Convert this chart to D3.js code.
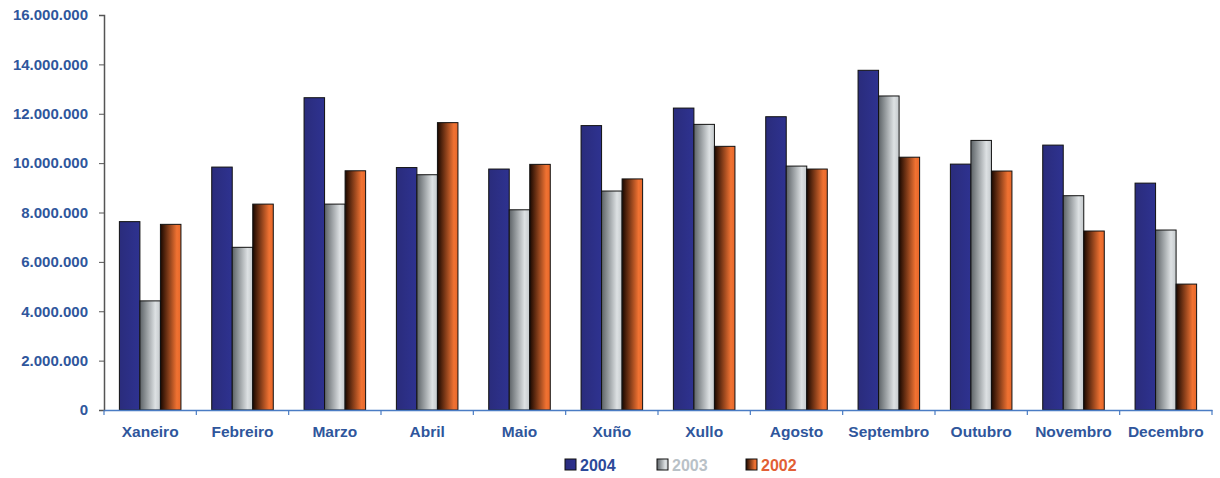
<!DOCTYPE html>
<html><head><meta charset="utf-8">
<script src="https://cdn.jsdelivr.net/npm/d3@7"></script>
<style>body{margin:0;background:#fff}svg{display:block}</style>
</head><body><svg id="c" width="1220" height="478"></svg>
<script>
const months = ["Xaneiro","Febreiro","Marzo","Abril","Maio","Xuño","Xullo","Agosto","Septembro","Outubro","Novembro","Decembro"];
const series = ["2004","2003","2002"];
const v2004 = [7630000,9840000,12650000,9820000,9760000,11520000,12230000,11880000,13760000,9960000,10730000,9190000];
const v2003 = [4420000,6590000,8340000,9530000,8110000,8870000,11570000,9880000,12720000,10920000,8680000,7290000];
const v2002 = [7520000,8340000,9690000,11640000,9950000,9360000,10680000,9760000,10240000,9680000,7250000,5100000];
const yTicks = [0,2000000,4000000,6000000,8000000,10000000,12000000,14000000,16000000];

(function(){
const svg = d3.select("#c");
const pLeft = 104, pRight = 1212, pTop = 15, pBottom = 410;
const blue = "#2f569c";
const font = "'Liberation Sans', Arial, sans-serif";

const defs = svg.append("defs");
function grad(id, stops){
  const g = defs.append("linearGradient").attr("id", id).attr("x1","0").attr("x2","1").attr("y1","0").attr("y2","0");
  stops.forEach(s => g.append("stop").attr("offset", s[0]).attr("stop-color", s[1]));
}
grad("g2004", [[0,"#2a2c7c"],[1,"#2e3290"]]);
grad("g2003", [[0,"#5d6367"],[0.75,"#dde1e3"],[1,"#c4c9cc"]]);
grad("g2002", [[0,"#1a0800"],[0.8,"#f07232"],[1,"#e8682a"]]);
const fills = {"2004":"url(#g2004)","2003":"url(#g2003)","2002":"url(#g2002)"};
const legendText = {"2004":"#2c4a9a","2003":"#b9c1c7","2002":"#e25f35"};

const x = d3.scaleBand().domain(months).range([pLeft, pRight]).paddingInner(0).paddingOuter(0);
const bw = x.bandwidth()/4.5;
const xs = d3.scaleBand().domain(series).range([0.75*bw, 3.75*bw]);
const y = d3.scaleLinear().domain([0,16000000]).range([pBottom, pTop]);

const data = {"2004":v2004,"2003":v2003,"2002":v2002};

const g = svg.append("g");
months.forEach((m,i) => {
  series.forEach(s => {
    g.append("rect")
      .attr("x", x(m) + xs(s))
      .attr("y", y(data[s][i]))
      .attr("width", xs.bandwidth())
      .attr("height", y(0) - y(data[s][i]))
      .attr("fill", fills[s])
      .attr("stroke", "#111")
      .attr("stroke-width", 1);
  });
});

const fmt = v => d3.format(",")(v).replace(/,/g, ".");
const yAxis = d3.axisLeft(y).tickValues(yTicks).tickFormat(fmt).tickSize(5).tickPadding(11);
const ya = svg.append("g").attr("transform", `translate(${pLeft},0)`).call(yAxis);
ya.select(".domain").attr("stroke","#555").attr("stroke-width",1.5);
ya.selectAll(".tick line").attr("stroke","#555");
ya.selectAll("text").attr("fill", blue).attr("font-family", font).attr("font-weight","bold").attr("font-size","15px");

const xAxis = d3.axisBottom(x).tickSize(0).tickPadding(16);
const xa = svg.append("g").attr("transform", `translate(0,${pBottom})`).call(xAxis);
xa.select(".domain").attr("stroke","#4a7cc4").attr("stroke-width",1.5);
xa.selectAll("text").attr("fill", blue).attr("font-family", font).attr("font-weight","bold").attr("font-size","15.5px");
const sep = d3.range(months.length+1).map(i => pLeft + i*x.step());
xa.selectAll(".sep").data(sep).enter().append("line")
  .attr("x1", d=>d).attr("x2", d=>d).attr("y1",0).attr("y2",5)
  .attr("stroke","#4a7cc4").attr("stroke-width",1.2);

const legX = {"2004":565,"2003":657,"2002":746};
series.forEach(s => {
  svg.append("rect").attr("x", legX[s]).attr("y", 459).attr("width", 11).attr("height", 11)
    .attr("fill", fills[s]).attr("stroke","#111").attr("stroke-width",1);
  svg.append("text").attr("x", legX[s]+15).attr("y", 471).text(s)
    .attr("fill", legendText[s]).attr("font-family", font).attr("font-weight","bold").attr("font-size","16px");
});
})();
</script></body></html>
